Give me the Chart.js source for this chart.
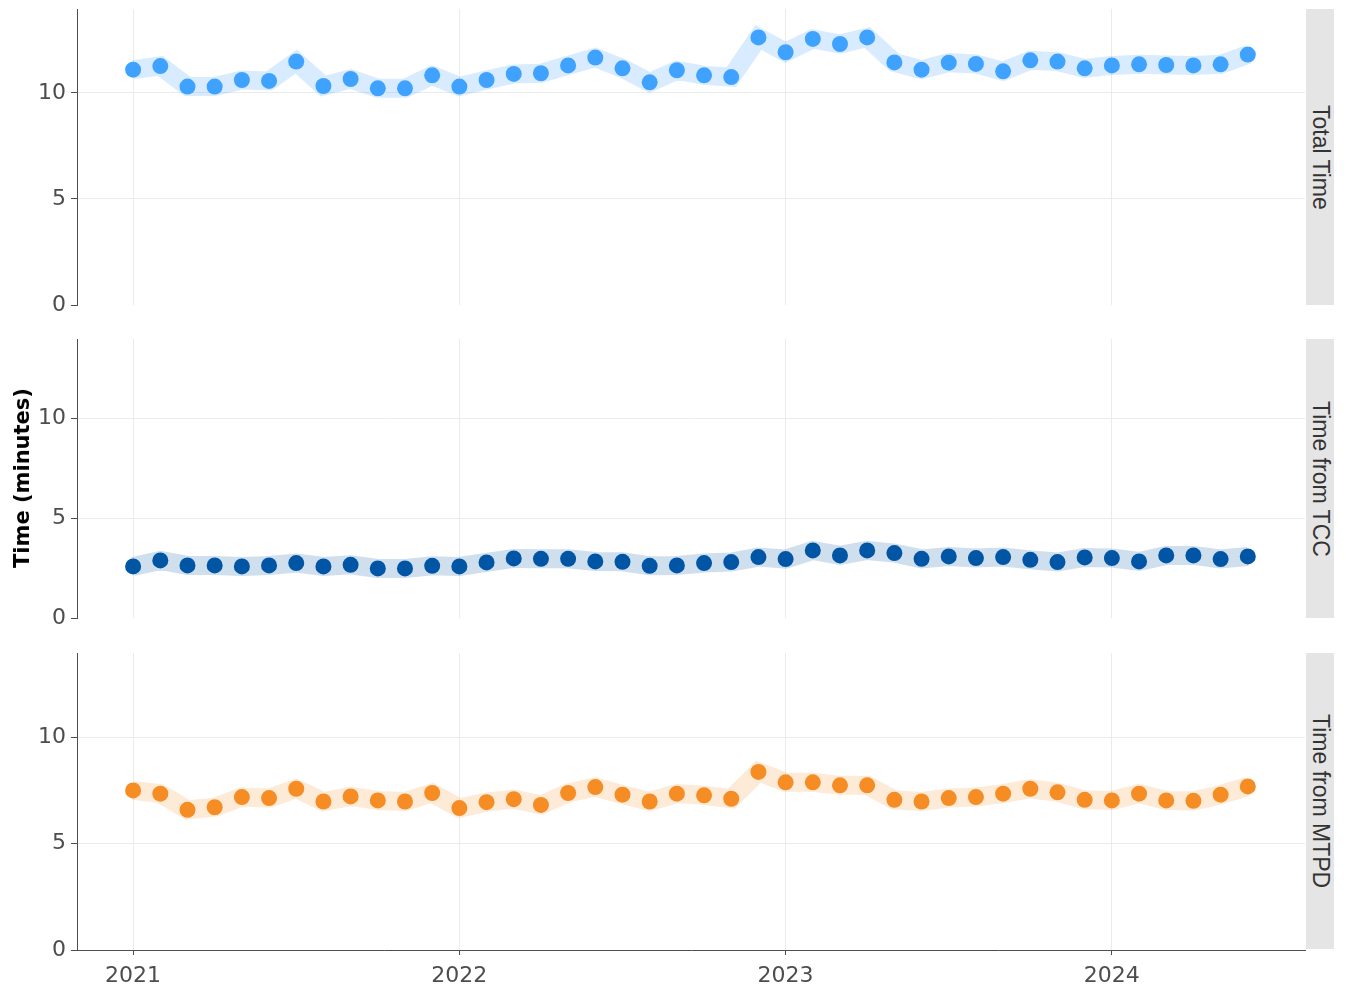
<!DOCTYPE html>
<html>
<head>
<meta charset="utf-8">
<script src="https://cdn.jsdelivr.net/npm/chart.js"></script>
<style>
  body { margin: 0; background: #fff; }
  #wrap { position: relative; width: 1348px; height: 1004px; overflow: hidden; }
  canvas { position: absolute; left: 0; }
  .strip { position: absolute; left: 1306px; width: 28px; background: #e5e5e5;
           display: flex; align-items: center; justify-content: center; }
  .strip span { writing-mode: vertical-rl; font-family: "Liberation Sans", Arial, sans-serif;
                font-size: 23px; color: #333; white-space: nowrap; }
  #ytitle { position: absolute; left: 22px; top: 478px; transform: translate(-50%, -50%) rotate(-90deg);
            font: bold 21px "DejaVu Sans", Verdana, sans-serif; color: #000; white-space: nowrap; }
</style>
</head>
<body>
<div id="wrap">
  <canvas id="c1" width="1348" height="324" style="top:-5px"></canvas>
  <canvas id="c2" width="1348" height="307" style="top:325px"></canvas>
  <canvas id="c3" width="1348" height="365" style="top:639px"></canvas>
  <div class="strip" style="top:9px;height:296px"><span>Total Time</span></div>
  <div class="strip" style="top:339px;height:279px"><span>Time from TCC</span></div>
  <div class="strip" style="top:653px;height:296px"><span>Time from MTPD</span></div>
  <div id="ytitle">Time (minutes)</div>
</div>
<script>
// Meses (enero 2021 - junio 2024)
const meses = [
  '2021-01','2021-02','2021-03','2021-04','2021-05','2021-06','2021-07','2021-08','2021-09','2021-10','2021-11','2021-12',
  '2022-01','2022-02','2022-03','2022-04','2022-05','2022-06','2022-07','2022-08','2022-09','2022-10','2022-11','2022-12',
  '2023-01','2023-02','2023-03','2023-04','2023-05','2023-06','2023-07','2023-08','2023-09','2023-10','2023-11','2023-12',
  '2024-01','2024-02','2024-03','2024-04','2024-05','2024-06'
];

// Series (minutos)
const totalTime = [11.1, 11.27, 10.3, 10.3, 10.61, 10.57, 11.48, 10.33, 10.66, 10.22, 10.22, 10.83,
  10.3, 10.61, 10.9, 10.93, 11.3, 11.67, 11.16, 10.5, 11.07, 10.83, 10.75, 12.62,
  11.92, 12.55, 12.31, 12.62, 11.44, 11.1, 11.43, 11.37, 11.02, 11.54, 11.48, 11.16,
  11.3, 11.35, 11.32, 11.3, 11.35, 11.81];
const timeTCC = [2.58, 2.88, 2.63, 2.63, 2.58, 2.63, 2.75, 2.58, 2.66, 2.48, 2.48, 2.61,
  2.58, 2.78, 2.98, 2.96, 2.96, 2.83, 2.81, 2.61, 2.63, 2.75, 2.8, 3.05,
  2.95, 3.38, 3.13, 3.38, 3.25, 2.96, 3.08, 3.0, 3.05, 2.91, 2.8, 3.03,
  3.0, 2.83, 3.13, 3.13, 2.95, 3.08];
const timeMTPD = [7.5, 7.35, 6.59, 6.71, 7.19, 7.14, 7.58, 6.98, 7.22, 7.03, 6.98, 7.38,
  6.67, 6.95, 7.09, 6.82, 7.38, 7.66, 7.3, 6.98, 7.35, 7.27, 7.11, 8.37,
  7.88, 7.88, 7.74, 7.74, 7.06, 6.98, 7.14, 7.19, 7.35, 7.58, 7.41, 7.06,
  7.03, 7.35, 7.03, 7.01, 7.3, 7.69];

// Ejes
const yearTicks = [2021, 2022, 2023, 2024];
const yearLabels = ['2021', '2022', '2023', '2024'];
const yTicks = [0, 5, 10];
const yLabels = ['0', '5', '10'];
const xMin = 2020.828, xMax = 2024.592;
const yMax = 13.96;

const gridColor = '#ebebeb';
const axisColor = '#4d4d4d';
const tickFont = { family: "'DejaVu Sans', Verdana, sans-serif", size: 22 };

// Mes 'YYYY-MM' -> año decimal
const aAnio = (m) => {
  const [y, mo] = m.split('-').map(Number);
  return y + (mo - 1) / 12;
};

const puntos = (valores) => valores.map((v, i) => ({ x: aAnio(meses[i]), y: v }));

const crearPanel = (id, valores, color, colorBanda, mostrarX) => {
  const data = puntos(valores);
  return new Chart(document.getElementById(id), {
    type: 'line',
    data: {
      datasets: [
        { data: data, showLine: false, pointRadius: 8, pointHoverRadius: 8,
          pointBackgroundColor: color, pointBorderWidth: 0 },
        { data: data, borderColor: colorBanda, borderWidth: 19, pointRadius: 0,
          pointHoverRadius: 0, fill: false, tension: 0 }
      ]
    },
    options: {
      responsive: false,
      animation: false,
      events: [],
      layout: { padding: { top: 14, right: 43, bottom: 14, left: 0 } },
      plugins: { legend: { display: false }, tooltip: { enabled: false } },
      scales: {
        x: {
          type: 'linear', min: xMin, max: xMax,
          afterBuildTicks: (s) => { s.ticks = yearTicks.map(v => ({ value: v })); },
          afterFit: (s) => { s.height = mostrarX ? 40 : 0; s.paddingLeft = 0; s.paddingRight = 0; },
          ticks: {
            display: mostrarX, padding: 8, font: tickFont, color: axisColor, maxRotation: 0,
            callback: (v) => yearLabels[yearTicks.indexOf(v)]
          },
          grid: { color: gridColor, tickColor: axisColor, tickLength: 5, drawTicks: mostrarX },
          border: { display: mostrarX, color: axisColor, width: 1 }
        },
        y: {
          min: 0, max: yMax,
          afterBuildTicks: (s) => { s.ticks = yTicks.map(v => ({ value: v })); },
          afterFit: (s) => { s.width = 77; s.paddingTop = 0; s.paddingBottom = 0; },
          ticks: {
            padding: 5, font: tickFont, color: axisColor,
            callback: (v) => yLabels[yTicks.indexOf(v)]
          },
          grid: {
            color: (ctx) => (ctx.tick && ctx.tick.value === 0) ? 'rgba(0,0,0,0)' : gridColor,
            tickColor: axisColor, tickLength: 6
          },
          border: { color: axisColor, width: 1 }
        }
      }
    }
  });
};

crearPanel('c1', totalTime, '#40a2ff', 'rgba(64,161,255,0.2)', false);
crearPanel('c2', timeTCC, '#0055a4', 'rgba(0,84,166,0.19)', false);
crearPanel('c3', timeMTPD, '#f68c24', 'rgba(246,140,34,0.18)', true);
</script>
</body>
</html>
